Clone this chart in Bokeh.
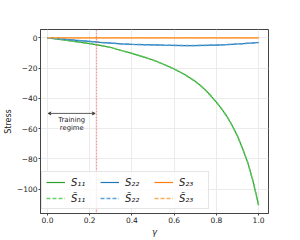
from bokeh.plotting import figure
from bokeh.models import (Range1d, FixedTicker, Legend, LegendItem, Arrow, VeeHead,
                          Span, ColumnDataSource)
from bokeh.core.properties import value
from bokeh.embed import file_html
from bokeh.resources import INLINE

gamma = [0.0, 0.05, 0.1, 0.15, 0.2, 0.25, 0.3, 0.35, 0.4, 0.45, 0.5, 0.55, 0.6,
         0.65, 0.7, 0.725, 0.75, 0.775, 0.8, 0.825, 0.85, 0.875, 0.9, 0.925, 0.95, 0.975, 1.0]
s11 = [0.0, -0.9, -1.8, -2.8, -3.8, -5.0, -6.4, -8.4, -10.3, -12.4, -14.7, -17.5, -20.6,
       -24.3, -28.8, -31.6, -34.8, -38.5, -42.6, -47.0, -52.0, -58.0, -65.0, -73.5, -83.0,
       -95.5, -110.7]
s22 = [0.0, -0.6, -1.2, -1.8, -2.4, -3.0, -3.5, -4.0, -4.3, -4.5, -4.7, -4.9, -5.0,
       -5.1, -5.1, -5.05, -5.0, -4.9, -4.8, -4.65, -4.5, -4.3, -4.1, -3.9, -3.6, -3.4, -3.1]
s23 = [0.0] * len(gamma)
s11_pred = list(s11)
s22_pred = list(s22)
s23_pred = list(s23)

train_end = 0.232
arrow_y = -50.0
text_x = 0.115
text_lines = ["Training", "regime"]
text_y = [-54.5, -59.8]

x_ticks = [0.0, 0.2, 0.4, 0.6, 0.8, 1.0]
y_ticks = [0, -20, -40, -60, -80, -100]

FONT = "DejaVu Sans"

p = figure(frame_width=228, frame_height=184, output_backend="svg", toolbar_location=None,
           x_range=Range1d(-0.033, 1.047), y_range=Range1d(-116.2, 5.5),
           min_border_left=33, min_border_right=20, min_border_top=29,
           min_border_bottom=18)
p.background_fill_color = "white"
p.border_fill_color = "white"
p.outline_line_color = "#444444"
p.outline_line_width = 1

for ax in (p.xaxis[0], p.yaxis[0]):
    ax.major_label_text_font = FONT
    ax.major_label_text_font_size = "7.5px"
    ax.major_label_text_color = "#222222"
    ax.axis_label_text_font = FONT
    ax.axis_label_text_font_style = "normal"
    ax.axis_label_text_color = "#222222"
    ax.axis_line_color = "#444444"
    ax.major_tick_line_color = "#444444"
    ax.major_tick_in = 0
    ax.major_tick_out = 2
    ax.minor_tick_line_color = None
    ax.major_label_standoff = 1
    ax.axis_label_standoff = 1

p.xaxis.ticker = FixedTicker(ticks=x_ticks)
p.yaxis.ticker = FixedTicker(ticks=y_ticks)
p.xaxis.major_label_overrides = {t: f"{t:.1f}" for t in x_ticks}
p.yaxis.major_label_overrides = {t: (f"\u2212{abs(t)}" if t < 0 else str(t)) for t in y_ticks}
p.xaxis.axis_label = "γ"
p.xaxis.axis_label_text_font_size = "8.5px"
p.xaxis.axis_label_text_font_style = "italic"
p.yaxis.axis_label = "Stress"
p.yaxis.axis_label_text_font_size = "8px"

p.xgrid.ticker = FixedTicker(ticks=x_ticks)
p.ygrid.ticker = FixedTicker(ticks=y_ticks)
p.xgrid.grid_line_color = "#ebebeb"
p.ygrid.grid_line_color = "#ebebeb"

src = ColumnDataSource(dict(g=gamma, s11=s11, s22=s22, s23=s23,
                            p11=s11_pred, p22=s22_pred, p23=s23_pred))

green, blue, orange = "#2ca02c", "#1f77b4", "#ff7f0e"
r11 = p.line("g", "s11", source=src, line_color=green, line_width=1.2)
r22 = p.line("g", "s22", source=src, line_color=blue, line_width=1.2)
r23 = p.line("g", "s23", source=src, line_color=orange, line_width=1.2)
q11 = p.line("g", "p11", source=src, line_color="#5cc95c", line_width=1.5,
             line_dash="4 2", line_alpha=0.9)
q22 = p.line("g", "p22", source=src, line_color="#4d9ad6", line_width=1.5,
             line_dash="4 2", line_alpha=0.9)
q23 = p.line("g", "p23", source=src, line_color="#ffa347", line_width=1.5,
             line_dash="4 2", line_alpha=0.9)

p.add_layout(Span(location=train_end, dimension="height", line_color="#e8595b",
                  line_alpha=0.6, line_dash="2 1", line_width=1.3))

p.add_layout(Arrow(x_start=0.003, y_start=arrow_y, x_end=train_end - 0.006, y_end=arrow_y,
                   line_color="#333333", line_width=0.8,
                   start=VeeHead(size=3, line_color="#333333", fill_color="#333333", line_width=0.8),
                   end=VeeHead(size=3, line_color="#333333", fill_color="#333333", line_width=0.8)))

p.text(x=[text_x, text_x], y=text_y, text=text_lines, text_align="center",
       text_baseline="middle", text_font=value(FONT), text_font_size="6.8px",
       text_color="#222222")

legend = Legend(items=[
    LegendItem(label="S\u2081\u2081", renderers=[r11]),
    LegendItem(label="S\u0303\u2081\u2081", renderers=[q11]),
    LegendItem(label="S\u2082\u2082", renderers=[r22]),
    LegendItem(label="S\u0303\u2082\u2082", renderers=[q22]),
    LegendItem(label="S\u2082\u2083", renderers=[r23]),
    LegendItem(label="S\u0303\u2082\u2083", renderers=[q23]),
], location=(1, 4), orientation="vertical", nrows=2)
legend.label_text_font = FONT
legend.label_text_font_size = "10px"
legend.label_text_font_style = "italic"
legend.label_text_color = "#222222"
legend.glyph_width = 19
legend.glyph_height = 12
legend.label_standoff = 6
legend.label_width = 25
legend.spacing = 4
legend.padding = 4
legend.margin = 0
legend.label_height = 12
legend.border_line_color = "#cccccc"
legend.background_fill_alpha = 0.8
p.add_layout(legend)

open("out.html", "w").write(file_html(p, INLINE))
